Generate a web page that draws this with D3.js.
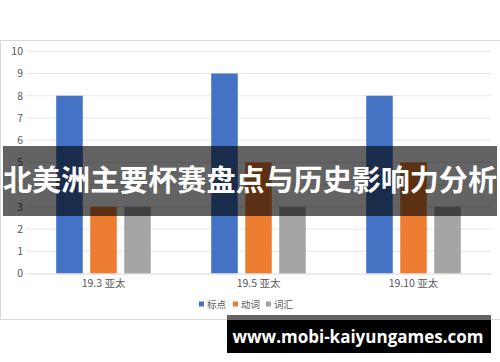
<!DOCTYPE html>
<html>
<head>
<meta charset="utf-8">
<style>
    body { margin: 0; background: #fff; }
    svg { display: block; }
    .tick text { font-family: "Noto Sans CJK SC", "Noto Sans", sans-serif; fill: #595959; }
</style>
<script src="https://d3js.org/d3.v7.min.js"></script>
</head>
<body>
<svg id="chart" width="500" height="362"></svg>
<script>
// categories and series
const categories = ['19.3 亚太', '19.5 亚太', '19.10 亚太'];
const seriesNames = ['标点', '动词', '词汇'];
const biaodian = [8, 9, 8];
const dongci = [3, 5, 5];
const cihui = [3, 3, 3];
const yTicks = [0, 1, 2, 3, 4, 5, 6, 7, 8, 9, 10];
const colors = ['#4472c4', '#ed7d31', '#a5a5a5'];
const title = '北美洲主要杯赛盘点与历史影响力分析';
const watermark = 'www.mobi-kaiyungames.com';

const seriesValues = [biaodian, dongci, cihui];
const rows = categories.map((c, i) => ({
    cat: c,
    vals: seriesNames.map((s, j) => ({ name: s, value: seriesValues[j][i], idx: j }))
}));

const svg = d3.select('#chart');
const font = '"Noto Sans CJK SC", "Noto Sans", sans-serif';

// chart frame
svg.append('rect')
    .attr('x', 0.5).attr('y', 40.5)
    .attr('width', 510).attr('height', 279)
    .attr('fill', 'none').attr('stroke', '#d9d9d9');

const plotL = 26, plotR = 491, plotT = 51.3, plotB = 273.5;

const x = d3.scaleBand().domain(categories).range([plotL, plotR]);
const x1 = d3.scaleBand().domain(seriesNames)
    .range([x.bandwidth() * 0.195, x.bandwidth() * 0.805])
    .paddingInner(0.22);
const y = d3.scaleLinear().domain([0, 10]).range([plotB, plotT]);

// gridlines
svg.append('g').selectAll('line')
    .data(yTicks.filter(d => d > 0))
    .join('line')
    .attr('x1', plotL).attr('x2', plotR)
    .attr('y1', d => y(d)).attr('y2', d => y(d))
    .attr('stroke', '#e6e6e6').attr('stroke-width', 1);

// y axis labels
const yAxis = svg.append('g')
    .attr('transform', `translate(${plotL - 3},0)`)
    .call(d3.axisLeft(y).tickValues(yTicks).tickSize(0).tickPadding(0));
yAxis.select('.domain').remove();
yAxis.selectAll('text').attr('font-size', 10.5);

// bars
svg.append('g').selectAll('g')
    .data(rows)
    .join('g')
    .attr('transform', d => `translate(${x(d.cat)},0)`)
    .selectAll('rect')
    .data(d => d.vals)
    .join('rect')
    .attr('x', d => x1(d.name))
    .attr('width', x1.bandwidth())
    .attr('y', d => y(d.value))
    .attr('height', d => y(0) - y(d.value))
    .attr('fill', d => colors[d.idx]);

// x axis
const xAxis = svg.append('g')
    .attr('transform', `translate(0,${plotB})`)
    .call(d3.axisBottom(x).tickSize(0).tickPadding(6));
xAxis.select('.domain').attr('stroke', '#d9d9d9');
xAxis.selectAll('text').attr('font-size', 10.5);

// legend
const legendX = [199, 233, 266];
const legend = svg.append('g').selectAll('g')
    .data(seriesNames)
    .join('g')
    .attr('transform', (d, i) => `translate(${legendX[i]},305)`);
legend.append('rect')
    .attr('x', 0).attr('y', -3.5).attr('width', 5).attr('height', 5)
    .attr('fill', (d, i) => colors[i]);
legend.append('text')
    .attr('x', 8).attr('y', 0).attr('dy', '0.35em')
    .attr('font-family', font).attr('font-size', 9.5)
    .attr('fill', '#595959')
    .text(d => d);

// title banner
svg.append('rect')
    .attr('x', 3).attr('y', 146).attr('width', 494).attr('height', 70)
    .attr('fill', '#000').attr('fill-opacity', 0.61);
svg.append('text')
    .attr('x', 250).attr('y', 181).attr('dy', '0.35em')
    .attr('text-anchor', 'middle')
    .attr('font-family', font).attr('font-weight', 'bold')
    .attr('font-size', 29)
    .attr('textLength', 494).attr('lengthAdjust', 'spacingAndGlyphs')
    .attr('fill', '#fff')
    .text(title);

// watermark
svg.append('rect')
    .attr('x', 227).attr('y', 315).attr('width', 264).attr('height', 5)
    .attr('fill', '#646464');
svg.append('rect')
    .attr('x', 227).attr('y', 320).attr('width', 264).attr('height', 33)
    .attr('fill', '#000');
svg.append('text')
    .attr('x', 358).attr('y', 337.5).attr('dy', '0.35em')
    .attr('text-anchor', 'middle')
    .attr('font-family', '"Open Sans", "DejaVu Sans", sans-serif').attr('font-weight', 'bold')
    .attr('font-size', 17)
    .attr('fill', '#fff')
    .text(watermark);
</script>
</body>
</html>
